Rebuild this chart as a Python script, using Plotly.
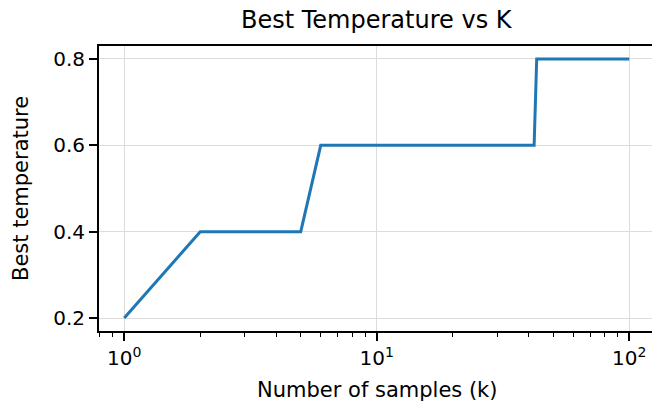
import plotly.graph_objects as go

k_samples = [1, 2, 5, 6, 42, 43, 100]
best_temp = [0.2, 0.4, 0.4, 0.6, 0.6, 0.8, 0.8]
x_tickvals = [1, 10, 100]
x_ticktext = ["10<sup>0</sup>", "10<sup>1</sup>", "10<sup>2</sup>"]
x_minor = [0.8, 0.9, 2, 3, 4, 5, 6, 7, 8, 9, 20, 30, 40, 50, 60, 70, 80, 90]
y_tickvals = [0.2, 0.4, 0.6, 0.8]
y_ticktext = ["0.2", "0.4", "0.6", "0.8"]
title_text = "Best Temperature vs K"
x_label = "Number of samples (k)"
y_label = "Best temperature"

font = "DejaVu Sans"
W, H = 652, 404
L, R, T, B = 99, 652, 46, 331  # plot area pixel edges

fig = go.Figure()
fig.add_trace(go.Scatter(x=k_samples, y=best_temp, mode="lines",
                         line=dict(color="#1f77b4", width=3), showlegend=False))

fig.update_layout(
    width=W, height=H,
    margin=dict(l=L, r=W - R, t=T, b=H - B, pad=0),
    paper_bgcolor="white", plot_bgcolor="white",
    font=dict(family=font, size=20, color="black"),
)
fig.update_xaxes(
    type="log", range=[-0.1, -0.1 + (R - L) / 252.5],
    tickmode="array", tickvals=x_tickvals, ticktext=x_ticktext,
    ticks="outside", ticklen=8, tickwidth=1.6, tickcolor="black",
    showline=True, linecolor="black", linewidth=1.8, mirror=True,
    showgrid=True, gridcolor="#dcdcdc", gridwidth=1.4,
    minor=dict(tickmode="array", tickvals=x_minor, ticks="outside", ticklen=4,
               tickwidth=1.3, tickcolor="black", showgrid=False),
    zeroline=False, automargin=False,
    tickfont=dict(size=20, family=font),
)
fig.update_yaxes(
    range=[0.17, 0.83],
    tickmode="array", tickvals=y_tickvals, ticktext=y_ticktext,
    ticks="outside", ticklen=8, tickwidth=1.6, tickcolor="black",
    showline=True, linecolor="black", linewidth=1.8, mirror=False,
    showgrid=True, gridcolor="#dcdcdc", gridwidth=1.4,
    zeroline=False, automargin=False,
    tickfont=dict(size=20, family=font),
)

pw, ph = R - L, B - T
fig.add_annotation(text=title_text, xref="paper", yref="paper",
                   x=(376.5 - L) / pw, y=(B - 20) / ph, xanchor="center", yanchor="middle",
                   showarrow=False, font=dict(size=24, family=font))
fig.add_annotation(text=x_label, xref="paper", yref="paper",
                   x=(377 - L) / pw, y=(B - 390) / ph, xanchor="center", yanchor="middle",
                   showarrow=False, font=dict(size=21, family=font))
fig.add_annotation(text=y_label, xref="paper", yref="paper", textangle=-90,
                   x=(21 - L) / pw, y=(B - 189) / ph, xanchor="center", yanchor="middle",
                   showarrow=False, font=dict(size=21, family=font))

fig.write_html("out.html", config={"displayModeBar": False},
               post_script="document.body.style.margin='0';document.body.style.overflow='hidden';")
